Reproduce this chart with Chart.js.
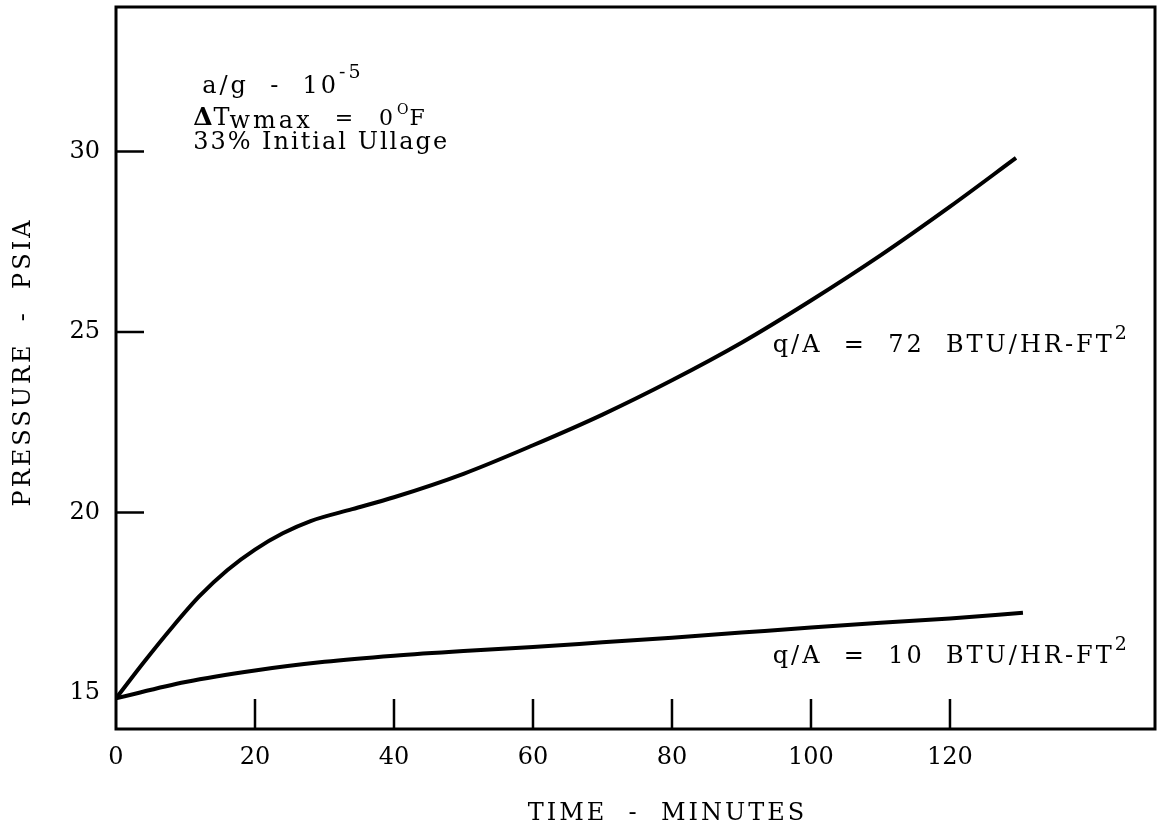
<!DOCTYPE html>
<html>
<head>
<meta charset="utf-8">
<script src="https://cdn.jsdelivr.net/npm/chart.js@4.4.1/dist/chart.umd.min.js"></script>
<style>
  html, body { margin: 0; padding: 0; background: #fff; }
  #wrap { width: 1160px; height: 832px; }
</style>
</head>
<body>
<div id="wrap"><canvas id="pressureChart"></canvas></div>
<script>
const timeTicks = [0, 20, 40, 60, 80, 100, 120];
const pressureTicks = [15, 20, 25, 30];

// q/A = 72 BTU/HR-FT2
const timeHigh = [0, 4, 8, 12, 16, 20, 24, 28, 34, 40, 50, 60, 70, 80, 90, 100, 110, 120, 129.5];
const pressureHigh = [14.85, 15.85, 16.8, 17.68, 18.4, 18.97, 19.42, 19.76, 20.09, 20.42, 21.07, 21.86, 22.71, 23.66, 24.7, 25.87, 27.12, 28.47, 29.82];

// q/A = 10 BTU/HR-FT2
const timeLow = [0, 10, 20, 30, 40, 50, 60, 70, 80, 90, 100, 110, 120, 130.5];
const pressureLow = [14.85, 15.3, 15.62, 15.86, 16.03, 16.16, 16.27, 16.4, 16.53, 16.67, 16.81, 16.94, 17.06, 17.22];

const SERIF = '"DejaVu Serif", "Liberation Serif", serif';
const font24 = { family: SERIF, size: 24 };

function toPoints(xs, ys) {
  return xs.map((t, i) => ({ x: t, y: ys[i] }));
}

// draws pieces of text one after another (for sub/superscripts)
function drawRuns(ctx, x, y, runs) {
  runs.forEach(r => {
    ctx.font = (r.bold ? 'bold ' : '') + r.size + 'px ' + SERIF;
    ctx.letterSpacing = (r.spacing === undefined ? 3 : r.spacing) + 'px';
    ctx.fillText(r.text, x, y - (r.rise || 0));
    x += ctx.measureText(r.text).width;
  });
}

const frame = {
  id: 'frame',
  afterDatasetsDraw(chart) {
    const { ctx, chartArea: a, scales: { x, y } } = chart;
    ctx.save();
    ctx.strokeStyle = '#000';
    ctx.lineWidth = 2.5;
    ctx.beginPath();
    timeTicks.slice(1).forEach(v => {
      const px = x.getPixelForValue(v);
      ctx.moveTo(px, a.bottom);
      ctx.lineTo(px, a.bottom - 30);
    });
    pressureTicks.slice(1).forEach(v => {
      const py = y.getPixelForValue(v);
      ctx.moveTo(a.left, py);
      ctx.lineTo(a.left + 28, py);
    });
    ctx.stroke();
    ctx.lineWidth = 3;
    ctx.strokeRect(a.left, a.top, a.right - a.left, a.bottom - a.top);
    ctx.restore();
  }
};

const notes = {
  id: 'notes',
  afterDraw(chart) {
    const { ctx, chartArea: a, scales: { x, y } } = chart;
    ctx.save();
    ctx.fillStyle = '#000';
    ctx.textBaseline = 'alphabetic';
    ctx.textAlign = 'left';
    drawRuns(ctx, x.getPixelForValue(12.4), y.getPixelForValue(31.62), [
      { text: 'a/g  -  10', size: 24 },
      { text: '-5', size: 19, rise: 15 }
    ]);
    drawRuns(ctx, x.getPixelForValue(11.1), y.getPixelForValue(30.74), [
      { text: '\u0394', size: 25, bold: true, spacing: 1 },
      { text: 'T', size: 24, spacing: 0 },
      { text: 'wmax', size: 24, rise: -3 },
      { text: '  =  0', size: 22, spacing: 4 },
      { text: 'O', size: 14, rise: 11, spacing: 1 },
      { text: 'F', size: 22 }
    ]);
    drawRuns(ctx, x.getPixelForValue(11.1), y.getPixelForValue(30.07), [
      { text: '33% Initial Ullage', size: 24, spacing: 2 }
    ]);
    drawRuns(ctx, x.getPixelForValue(94.5), y.getPixelForValue(24.44), [
      { text: 'q/A  =  72  BTU/HR-FT', size: 24 },
      { text: '2', size: 19, rise: 13 }
    ]);
    drawRuns(ctx, x.getPixelForValue(94.5), y.getPixelForValue(15.83), [
      { text: 'q/A  =  10  BTU/HR-FT', size: 24 },
      { text: '2', size: 19, rise: 13 }
    ]);

    // axis titles
    ctx.font = '24px ' + SERIF;
    ctx.letterSpacing = '3px';
    ctx.textAlign = 'center';
    ctx.fillText('TIME  -  MINUTES', (a.left + a.right) / 2 + 32, chart.height - 12);
    ctx.translate(30, (a.top + a.bottom) / 2 - 6);
    ctx.rotate(-Math.PI / 2);
    ctx.fillText('PRESSURE  -  PSIA', 0, 0);
    ctx.restore();
  }
};

const lineStyle = {
  borderColor: '#000',
  borderWidth: 4,
  pointRadius: 0,
  fill: false,
  cubicInterpolationMode: 'monotone'
};

new Chart(document.getElementById('pressureChart'), {
  type: 'line',
  data: {
    datasets: [
      Object.assign({ label: 'q/A = 72 BTU/HR-FT2', data: toPoints(timeHigh, pressureHigh) }, lineStyle),
      Object.assign({ label: 'q/A = 10 BTU/HR-FT2', data: toPoints(timeLow, pressureLow) }, lineStyle)
    ]
  },
  options: {
    responsive: true,
    maintainAspectRatio: false,
    animation: false,
    layout: { padding: { top: 7, right: 5, left: 0, bottom: 0 } },
    plugins: {
      legend: { display: false },
      tooltip: { enabled: false }
    },
    scales: {
      x: {
        type: 'linear',
        min: 0,
        max: 149.5,
        afterBuildTicks: s => { s.ticks = timeTicks.map(v => ({ value: v })); },
        afterFit: s => { s.height = 103; s.paddingLeft = 0; s.paddingRight = 0; },
        ticks: { font: font24, color: '#000', padding: 14, maxRotation: 0, autoSkip: false },
        grid: { display: false, drawTicks: false },
        border: { display: false },
        title: { display: false, text: 'TIME - MINUTES' }
      },
      y: {
        type: 'linear',
        min: 14,
        max: 34,
        afterBuildTicks: s => { s.ticks = pressureTicks.map(v => ({ value: v })); },
        afterFit: s => { s.width = 116; s.paddingTop = 0; s.paddingBottom = 0; },
        ticks: { font: font24, color: '#000', padding: 16, autoSkip: false },
        grid: { display: false, drawTicks: false },
        border: { display: false },
        title: { display: false, text: 'PRESSURE - PSIA' }
      }
    }
  },
  plugins: [frame, notes]
});
</script>
</body>
</html>
